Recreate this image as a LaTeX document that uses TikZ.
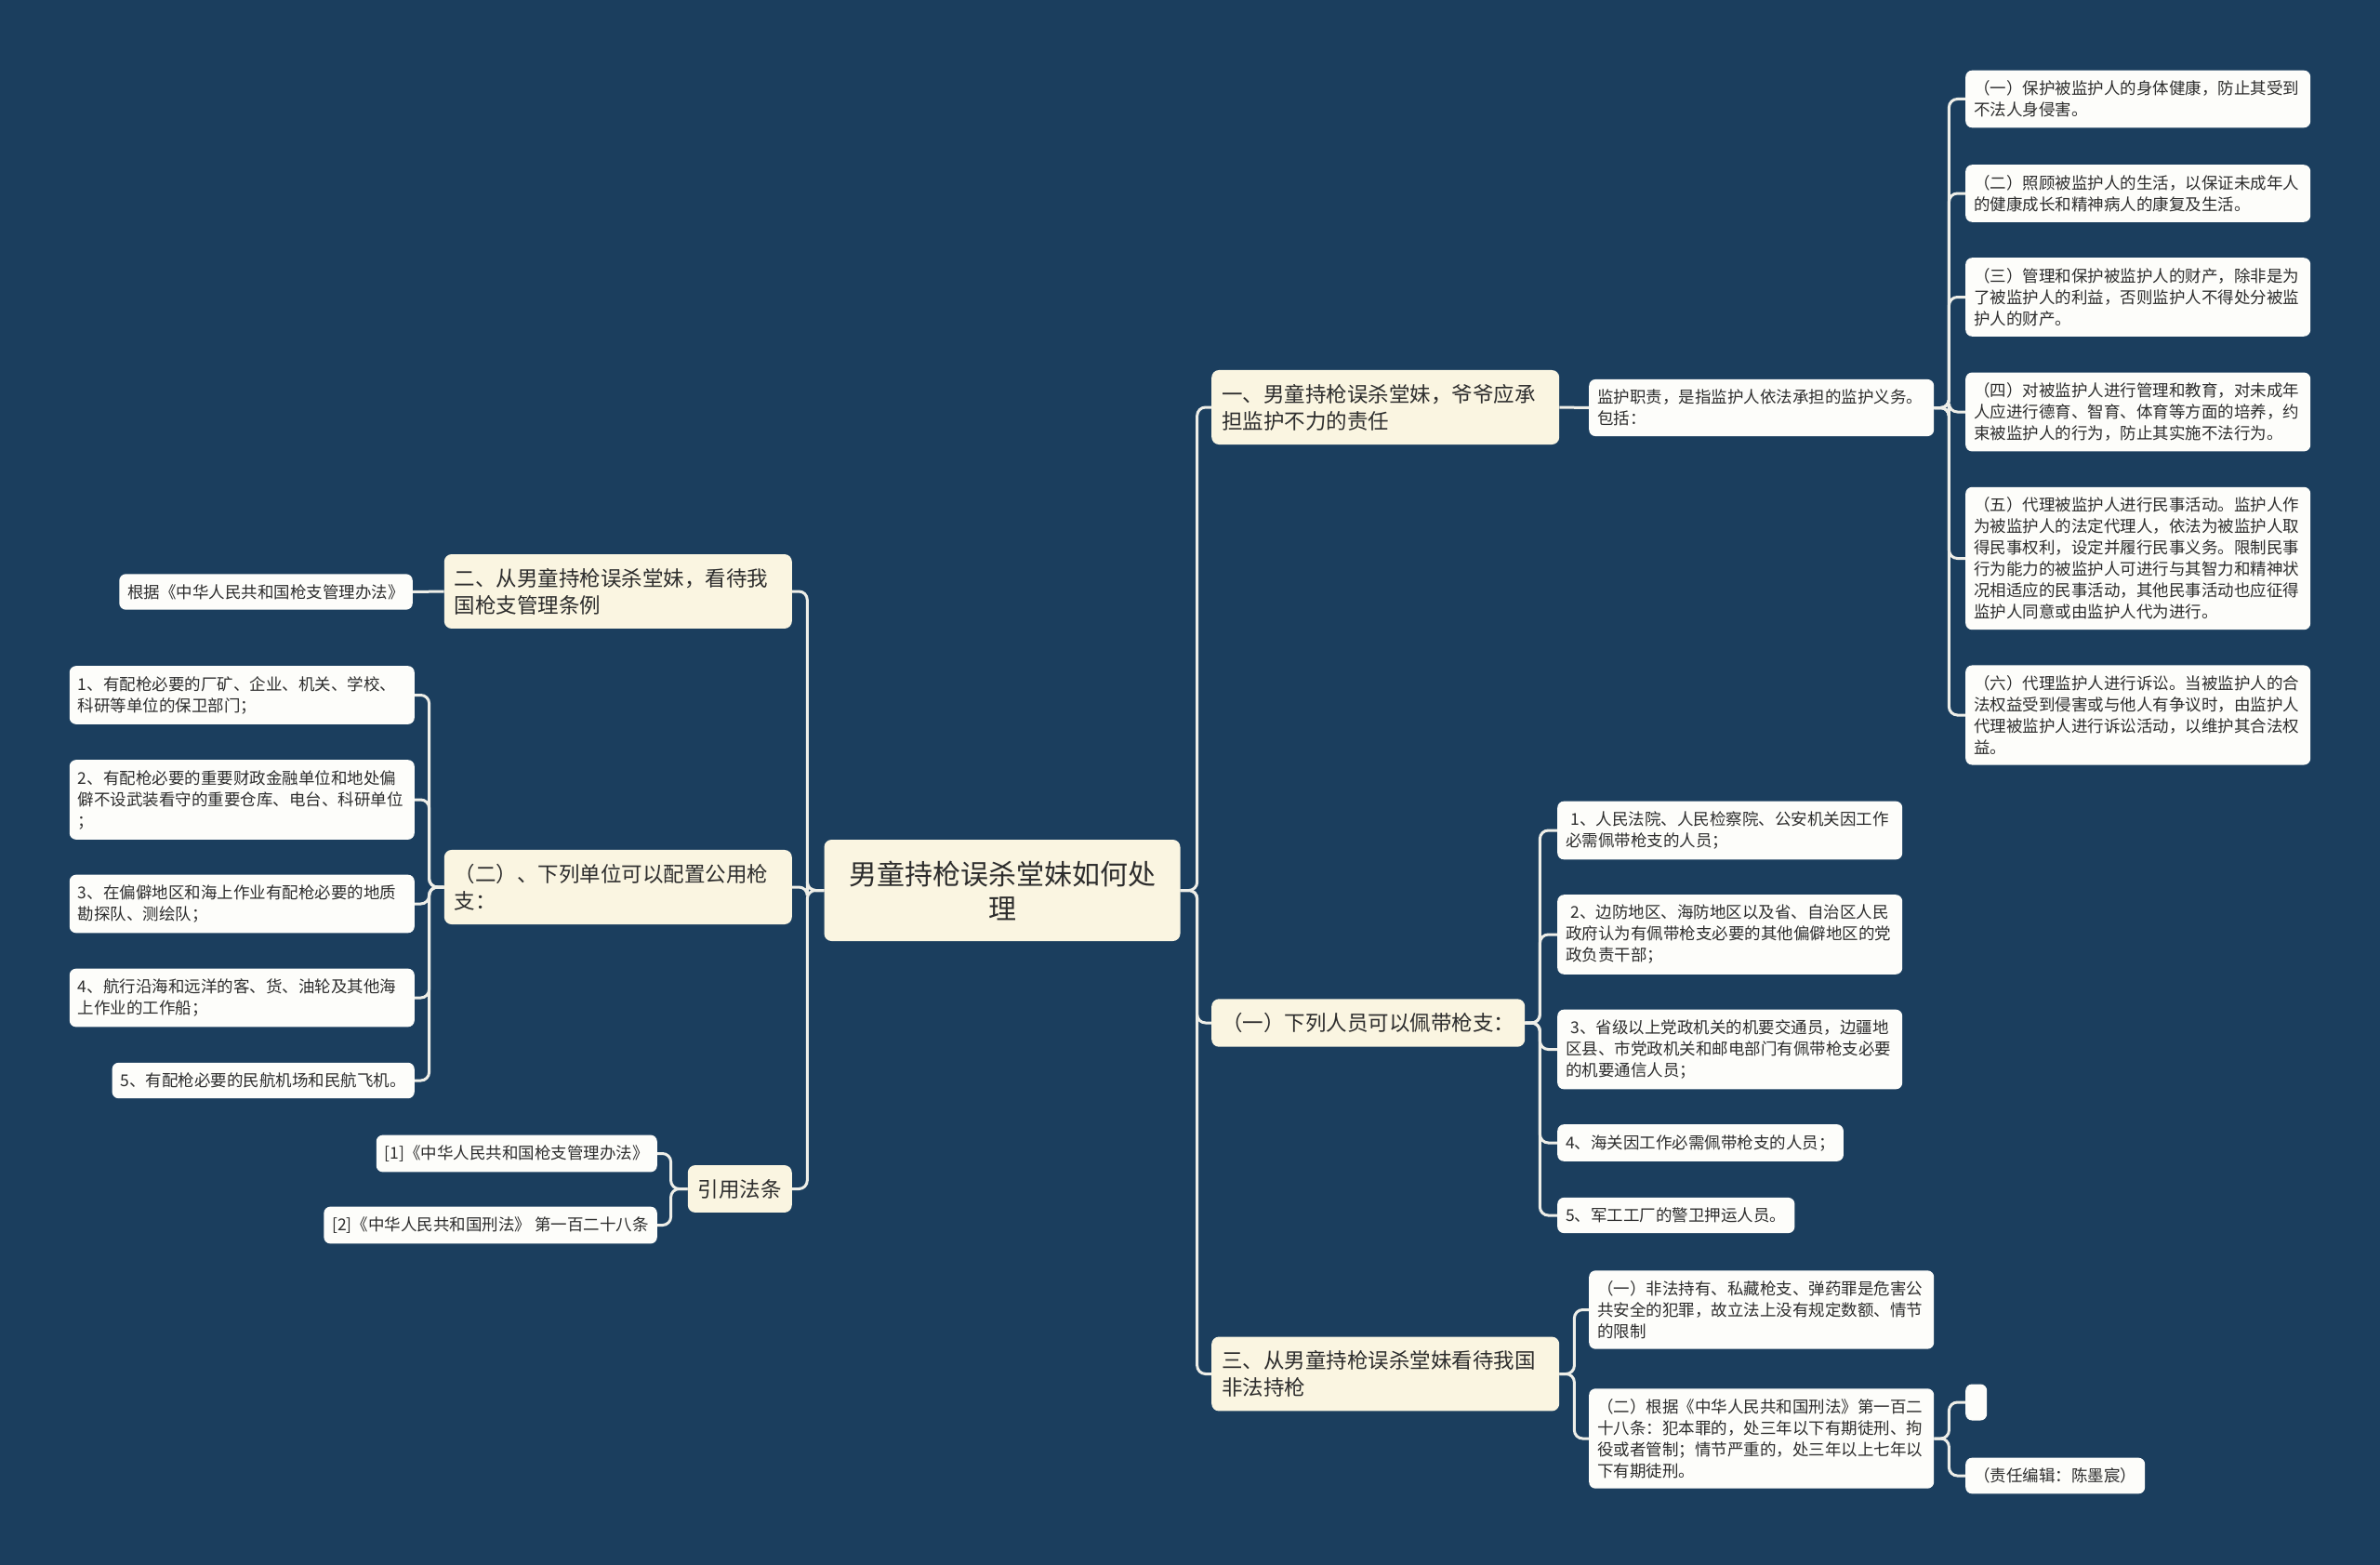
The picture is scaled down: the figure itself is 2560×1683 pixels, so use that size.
\documentclass[tikz,border=0pt]{standalone}
\usepackage{fontspec}
\setmainfont{Noto Sans CJK SC}
\definecolor{mapBg}{RGB}{27,62,94}
\definecolor{mapCream}{RGB}{250,245,225}
\definecolor{mapLeaf}{RGB}{253,253,250}
\definecolor{mapLine}{RGB}{238,238,232}
\definecolor{mapText}{RGB}{45,45,45}
\tikzset{
  rootBox/.style={fill=mapCream,rounded corners=8pt,text=mapText,align=center,text width=331pt,minimum height=109pt,inner xsep=26pt,font=\fontsize{30}{37}\selectfont},
  topicBox/.style={fill=mapCream,rounded corners=8pt,text=mapText,align=left,inner xsep=11pt,inner ysep=15pt,font=\fontsize{22.5}{29}\selectfont},
  leafBox/.style={fill=mapLeaf,rounded corners=7pt,text=mapText,align=left,inner xsep=9pt,inner ysep=11pt,font=\fontsize{17.5}{23}\selectfont},
  wideLeaf/.style={leafBox,text width=353pt},
  linkLine/.style={draw=mapLine,line width=3pt,rounded corners=9pt},
}

\begin{document}
\begin{tikzpicture}[x=1pt,y=-1pt]
\fill[mapBg] (0,0) rectangle (2560,1683);
\node[rootBox] (root) at (1078,957.5) {男童持枪误杀堂妹如何处\\理};
% right side
\node[topicBox,text width=352pt,anchor=west] (guard) at (1303,438) {一、男童持枪误杀堂妹，爷爷应承\\担监护不力的责任};
\node[wideLeaf,anchor=west] (duty) at (1709,438.5) {监护职责，是指监护人依法承担的监护义务。\\包括：};
\node[wideLeaf,anchor=west] (dutyA) at (2114,106.5) {（一）保护被监护人的身体健康，防止其受到\\不法人身侵害。};
\node[wideLeaf,anchor=west] (dutyB) at (2114,208) {（二）照顾被监护人的生活，以保证未成年人\\的健康成长和精神病人的康复及生活。};
\node[wideLeaf,anchor=west] (dutyC) at (2114,319.5) {（三）管理和保护被监护人的财产，除非是为\\了被监护人的利益，否则监护人不得处分被监\\护人的财产。};
\node[wideLeaf,anchor=west] (dutyD) at (2114,443) {（四）对被监护人进行管理和教育，对未成年\\人应进行德育、智育、体育等方面的培养，约\\束被监护人的行为，防止其实施不法行为。};
\node[wideLeaf,anchor=west] (dutyE) at (2114,600.5) {（五）代理被监护人进行民事活动。监护人作\\为被监护人的法定代理人，依法为被监护人取\\得民事权利，设定并履行民事义务。限制民事\\行为能力的被监护人可进行与其智力和精神状\\况相适应的民事活动，其他民事活动也应征得\\监护人同意或由监护人代为进行。};
\node[wideLeaf,anchor=west] (dutyF) at (2114,769) {（六）代理监护人进行诉讼。当被监护人的合\\法权益受到侵害或与他人有争议时，由监护人\\代理被监护人进行诉讼活动，以维护其合法权\\益。};
\node[topicBox,anchor=west] (carry) at (1303,1100) {（一）下列人员可以佩带枪支：};
\node[wideLeaf,anchor=west] (carryA) at (1675,893) {\hspace*{0.3em}1、人民法院、人民检察院、公安机关因工作\\必需佩带枪支的人员；};
\node[wideLeaf,anchor=west] (carryB) at (1675,1005) {\hspace*{0.3em}2、边防地区、海防地区以及省、自治区人民\\政府认为有佩带枪支必要的其他偏僻地区的党\\政负责干部；};
\node[wideLeaf,anchor=west] (carryC) at (1675,1128.5) {\hspace*{0.3em}3、省级以上党政机关的机要交通员，边疆地\\区县、市党政机关和邮电部门有佩带枪支必要\\的机要通信人员；};
\node[leafBox,anchor=west] (carryD) at (1675,1229) {4、海关因工作必需佩带枪支的人员；};
\node[leafBox,anchor=west] (carryE) at (1675,1307) {5、军工工厂的警卫押运人员。};
\node[topicBox,text width=352pt,anchor=west] (illegal) at (1303,1477.5) {三、从男童持枪误杀堂妹看待我国\\非法持枪};
\node[wideLeaf,anchor=west] (illegalA) at (1709,1408.5) {（一）非法持有、私藏枪支、弹药罪是危害公\\共安全的犯罪，故立法上没有规定数额、情节\\的限制};
\node[wideLeaf,anchor=west] (illegalB) at (1709,1547) {（二）根据《中华人民共和国刑法》第一百二\\十八条：犯本罪的，处三年以下有期徒刑、拘\\役或者管制；情节严重的，处三年以上七年以\\下有期徒刑。};
\node[leafBox,anchor=west,inner sep=0pt,minimum width=23pt,minimum height=39pt] (blank) at (2114,1508) {};
\node[leafBox,anchor=west] (editor) at (2114,1587) {（责任编辑：陈墨宸）};
% left side
\node[topicBox,text width=352pt,anchor=east] (rules) at (852,636) {二、从男童持枪误杀堂妹，看待我\\国枪支管理条例};
\node[leafBox,anchor=east] (rulesA) at (444,636.5) {根据《中华人民共和国枪支管理办法》};
\node[topicBox,text width=352pt,anchor=east] (units) at (852,954) {（二）、下列单位可以配置公用枪\\支：};
\node[wideLeaf,anchor=east] (unitsA) at (446,747.5) {1、有配枪必要的厂矿、企业、机关、学校、\\科研等单位的保卫部门；};
\node[wideLeaf,anchor=east] (unitsB) at (446,860) {2、有配枪必要的重要财政金融单位和地处偏\\僻不设武装看守的重要仓库、电台、科研单位\\；};
\node[wideLeaf,anchor=east] (unitsC) at (446,972) {3、在偏僻地区和海上作业有配枪必要的地质\\勘探队、测绘队；};
\node[wideLeaf,anchor=east] (unitsD) at (446,1073) {4、航行沿海和远洋的客、货、油轮及其他海\\上作业的工作船；};
\node[leafBox,anchor=east] (unitsE) at (446,1162) {5、有配枪必要的民航机场和民航飞机。};
\node[topicBox,anchor=east] (cite) at (852,1278.5) {引用法条};
\node[leafBox,anchor=east] (citeA) at (707,1240.5) {[1]《中华人民共和国枪支管理办法》};
\node[leafBox,anchor=east] (citeB) at (707,1317.5) {[2]《中华人民共和国刑法》 第一百二十八条};
% links
\foreach \c in {guard,carry,illegal}
  \draw[linkLine] (root.east) -- ++(18,0) |- (\c.west);
\foreach \c in {rules,units,cite}
  \draw[linkLine] (root.west) -- ++(-18,0) |- (\c.east);
\draw[linkLine] (guard.east) -- (duty.west);
\foreach \c in {dutyA,dutyB,dutyC,dutyD,dutyE,dutyF}
  \draw[linkLine] (duty.east) -- ++(16,0) |- (\c.west);
\foreach \c in {carryA,carryB,carryC,carryD,carryE}
  \draw[linkLine] (carry.east) -- ++(16,0) |- (\c.west);
\foreach \c in {illegalA,illegalB}
  \draw[linkLine] (illegal.east) -- ++(16,0) |- (\c.west);
\foreach \c in {blank,editor}
  \draw[linkLine] (illegalB.east) -- ++(16,0) |- (\c.west);
\draw[linkLine] (rules.west) -- (rulesA.east);
\foreach \c in {unitsA,unitsB,unitsC,unitsD,unitsE}
  \draw[linkLine] (units.west) -- ++(-16,0) |- (\c.east);
\foreach \c in {citeA,citeB}
  \draw[linkLine] (cite.west) -- ++(-18,0) |- (\c.east);
\end{tikzpicture}
\end{document}
